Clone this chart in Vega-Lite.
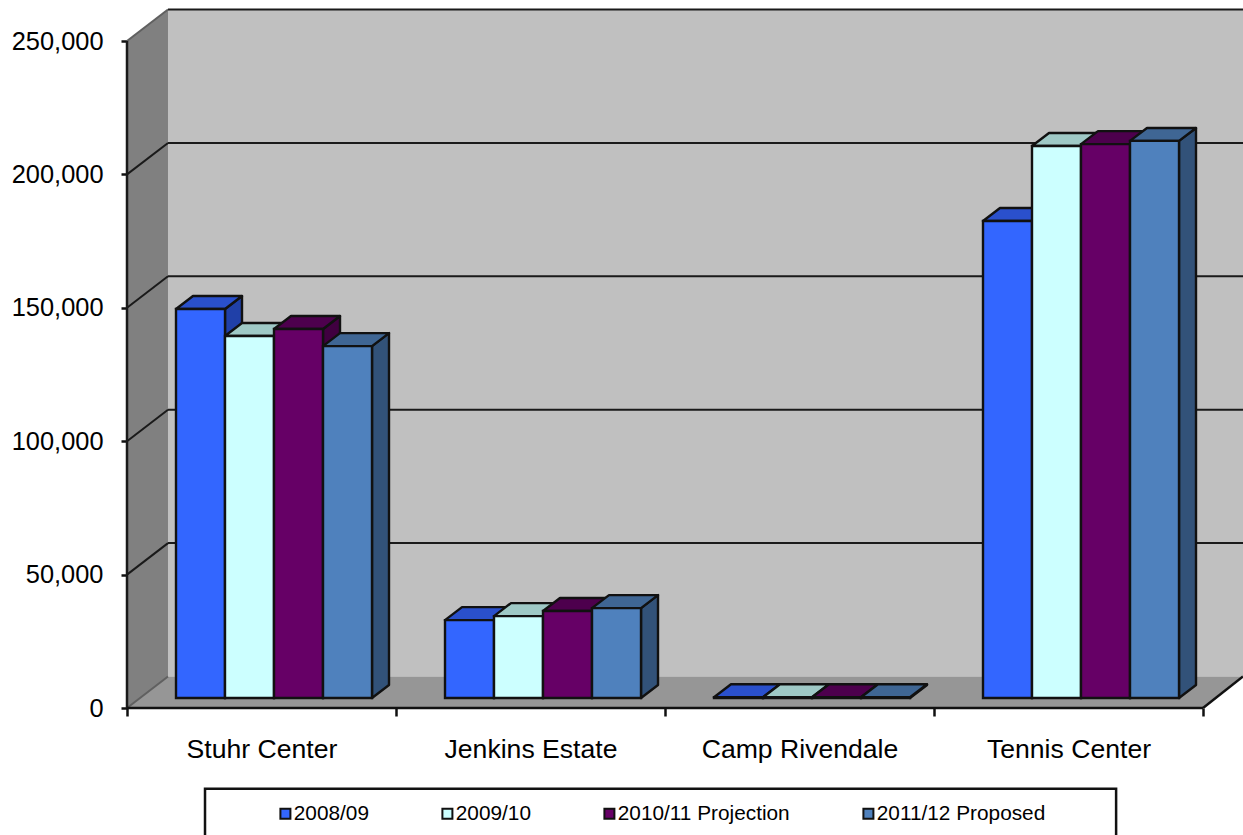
{
"$schema":"https://vega.github.io/schema/vega-lite/v6.json",
"width":1116,"height":698,
"autosize":{"type":"none"},
"padding":{"left":127,"top":10,"right":0,"bottom":127},
"background":"white",
"config":{"view":{"stroke":null},"font":"Liberation Sans"},
"datasets":{
"bars":[
{"category":"Stuhr Center","series":"2008/09","value":145800},
{"category":"Stuhr Center","series":"2009/10","value":135700},
{"category":"Stuhr Center","series":"2010/11 Projection","value":138300},
{"category":"Stuhr Center","series":"2011/12 Proposed","value":131900},
{"category":"Jenkins Estate","series":"2008/09","value":29200},
{"category":"Jenkins Estate","series":"2009/10","value":30700},
{"category":"Jenkins Estate","series":"2010/11 Projection","value":32600},
{"category":"Jenkins Estate","series":"2011/12 Proposed","value":33700},
{"category":"Camp Rivendale","series":"2008/09","value":300},
{"category":"Camp Rivendale","series":"2009/10","value":300},
{"category":"Camp Rivendale","series":"2010/11 Projection","value":300},
{"category":"Camp Rivendale","series":"2011/12 Proposed","value":300},
{"category":"Tennis Center","series":"2008/09","value":178800},
{"category":"Tennis Center","series":"2009/10","value":206900},
{"category":"Tennis Center","series":"2010/11 Projection","value":207600},
{"category":"Tennis Center","series":"2011/12 Proposed","value":208800}
],
"levels":[{"level":0},{"level":50000},{"level":100000},{"level":150000},{"level":200000},{"level":250000}],
"depths":[{"depth":0},{"depth":1}],
"frame":[{"part":"frame"}]
},
"resolve":{"scale":{"fill":"independent"}},
"layer":[
{"data":{"name":"depths"},
 "transform":[{"calculate":"datum.depth*0.1524","as":"wx"},{"calculate":"datum.depth*11800","as":"wy"},{"calculate":"250000+datum.depth*11800","as":"wy2"}],
 "mark":{"type":"area","fill":"#808080","orient":"vertical"},
 "encoding":{
 "x":{"field":"wx","type":"quantitative","scale":{"domain":[0,4.1487],"nice":false,"zero":false},"axis":{"title":null,"values":[0,1,2,3,4],"labelExpr":"['Stuhr Center','Jenkins Estate','Camp Rivendale','Tennis Center',''][datum.value]","labelOffset":134.5,"labelFontSize":26.6,"labelColor":"#000000","labelPadding":20,"labelLimit":400,"labelOverlap":false,"labelBound":false,"labelFlush":false,"tickSize":8,"tickWidth":2.5,"tickColor":"#111111","domain":false,"grid":false}},
 "y":{"field":"wy","type":"quantitative","scale":{"domain":[0,261620],"nice":false,"zero":false},"stack":null,"axis":{"title":null,"values":[0,50000,100000,150000,200000,250000],"labelExpr":"format(datum.value,',')","labelFontSize":25.4,"labelColor":"#000000","labelPadding":18,"labelLimit":200,"tickSize":6,"tickWidth":2.5,"tickColor":"#111111","domain":false,"grid":false}},
 "y2":{"field":"wy2"}}},
{"data":{"name":"frame"},"mark":{"type":"rect","fill":"#C0C0C0"},
 "encoding":{"x":{"datum":0.1524,"type":"quantitative"},"x2":{"datum":4.1487},"y":{"datum":11800,"type":"quantitative"},"y2":{"datum":261800}}},
{"data":{"name":"depths"},
 "transform":[{"calculate":"datum.depth*0.1524","as":"fx"},{"calculate":"4+datum.depth*0.1487","as":"fx2"},{"calculate":"datum.depth*11800","as":"fy"}],
 "mark":{"type":"area","fill":"#969696","orient":"horizontal"},
 "encoding":{"x":{"field":"fx","type":"quantitative","stack":null},"x2":{"field":"fx2"},"y":{"field":"fy","type":"quantitative"}}},
{"data":{"name":"levels"},
 "transform":[{"filter":"datum.level>0"},{"calculate":"datum.level+11800","as":"back"}],
 "mark":{"type":"rule","stroke":"#1a1a1a","strokeWidth":2},
 "encoding":{"x":{"datum":0.1524,"type":"quantitative"},"x2":{"datum":4.1487},"y":{"field":"back","type":"quantitative"}}},
{"data":{"name":"levels"},
 "transform":[{"calculate":"datum.level+11800","as":"back"}],
 "mark":{"type":"rule","strokeWidth":2},
 "encoding":{"x":{"datum":0,"type":"quantitative"},"x2":{"datum":0.1524},"y":{"field":"level","type":"quantitative"},"y2":{"field":"back"},
 "stroke":{"condition":{"test":"datum.level===0||datum.level===250000","value":"#606060"},"value":"#1a1a1a"}}},
{"data":{"name":"frame"},"mark":{"type":"rule","stroke":"#1a1a1a","strokeWidth":2.5},
 "encoding":{"x":{"datum":0,"type":"quantitative"},"y":{"datum":0,"type":"quantitative"},"y2":{"datum":250000}}},
{"data":{"name":"frame"},"mark":{"type":"rule","stroke":"#111111","strokeWidth":2.5},
 "encoding":{"x":{"datum":0,"type":"quantitative"},"x2":{"datum":4},"y":{"datum":0,"type":"quantitative"}}},
{"data":{"name":"frame"},"mark":{"type":"rule","stroke":"#111111","strokeWidth":2.5},
 "encoding":{"x":{"datum":4,"type":"quantitative"},"x2":{"datum":4.1487},"y":{"datum":0,"type":"quantitative"},"y2":{"datum":11800}}},
{"data":{"name":"bars"},
 "transform":[
 {"calculate":"indexof(['Stuhr Center','Jenkins Estate','Camp Rivendale','Tennis Center'],datum.category)+0.18216+0.18216*indexof(['2008/09','2009/10','2010/11 Projection','2011/12 Proposed'],datum.series)","as":"x0"},
 {"calculate":"datum.x0+0.18216","as":"x1"},
 {"calculate":"datum.category+datum.series","as":"bar"},
 {"calculate":"[0,1]","as":"t"},{"flatten":["t"]},
 {"calculate":"datum.x1+datum.t*0.0632","as":"sx"},
 {"calculate":"datum.value+3750+datum.t*4870","as":"sy"},
 {"calculate":"3750+datum.t*4870","as":"sy2"}],
 "mark":{"type":"area","orient":"vertical","stroke":"#111111","strokeWidth":2.4,"strokeJoin":"round"},
 "encoding":{"detail":{"field":"bar"},
 "x":{"field":"sx","type":"quantitative"},"y":{"field":"sy","type":"quantitative","stack":null},"y2":{"field":"sy2"},
 "fill":{"field":"series","type":"nominal","legend":null,"scale":{"domain":["2008/09","2009/10","2010/11 Projection","2011/12 Proposed"],"range":["#2040A8","#80A8A8","#400040","#325279"]}}}},
{"data":{"name":"bars"},
 "transform":[
 {"calculate":"indexof(['Stuhr Center','Jenkins Estate','Camp Rivendale','Tennis Center'],datum.category)+0.18216+0.18216*indexof(['2008/09','2009/10','2010/11 Projection','2011/12 Proposed'],datum.series)","as":"x0"},
 {"calculate":"datum.x0+0.18216","as":"x1"},
 {"calculate":"datum.category+datum.series","as":"bar"},
 {"calculate":"[0,1]","as":"t"},{"flatten":["t"]},
 {"calculate":"datum.x0+datum.t*0.0632","as":"tx"},
 {"calculate":"datum.x1+datum.t*0.0632","as":"tx2"},
 {"calculate":"datum.value+3750+datum.t*4870","as":"ty"}],
 "mark":{"type":"area","orient":"horizontal","stroke":"#111111","strokeWidth":2.4,"strokeJoin":"round"},
 "encoding":{"detail":{"field":"bar"},
 "x":{"field":"tx","type":"quantitative","stack":null},"x2":{"field":"tx2"},"y":{"field":"ty","type":"quantitative"},
 "fill":{"field":"series","type":"nominal","legend":null,"scale":{"domain":["2008/09","2009/10","2010/11 Projection","2011/12 Proposed"],"range":["#2A50CC","#9FC9C6","#4D004D","#3F6694"]}}}},
{"data":{"name":"frame"},"mark":{"type":"rect","fill":"white","stroke":"#111111","strokeWidth":2.5},
 "encoding":{"x":{"datum":0.29,"type":"quantitative"},"x2":{"datum":3.677},"y":{"datum":-30300,"type":"quantitative"},"y2":{"datum":-60000}}},
{"data":{"name":"bars"},
 "transform":[
 {"calculate":"indexof(['Stuhr Center','Jenkins Estate','Camp Rivendale','Tennis Center'],datum.category)+0.18216+0.18216*indexof(['2008/09','2009/10','2010/11 Projection','2011/12 Proposed'],datum.series)","as":"x0"},
 {"calculate":"datum.x0+0.18216","as":"x1"},
 {"calculate":"datum.value+3750","as":"top"},
 {"calculate":"3750","as":"base"}],
 "mark":{"type":"rect","stroke":"#111111","strokeWidth":2.4},
 "encoding":{
 "x":{"field":"x0","type":"quantitative"},
 "x2":{"field":"x1"},
 "y":{"field":"top","type":"quantitative"},
 "y2":{"field":"base"},
 "fill":{"field":"series","type":"nominal","scale":{"domain":["2008/09","2009/10","2010/11 Projection","2011/12 Proposed"],"range":["#3366FF","#CCFFFF","#660066","#4F81BD"]},
 "legend":{"title":null,"orient":"none","legendX":148,"legendY":793,"columns":4,"columnPadding":68,"symbolType":"square","symbolSize":100,"symbolStrokeColor":"#111111","symbolStrokeWidth":2,"labelFontSize":20.8,"labelColor":"#000000","labelOffset":-2,"labelLimit":400,"padding":0}}}}
]
}
